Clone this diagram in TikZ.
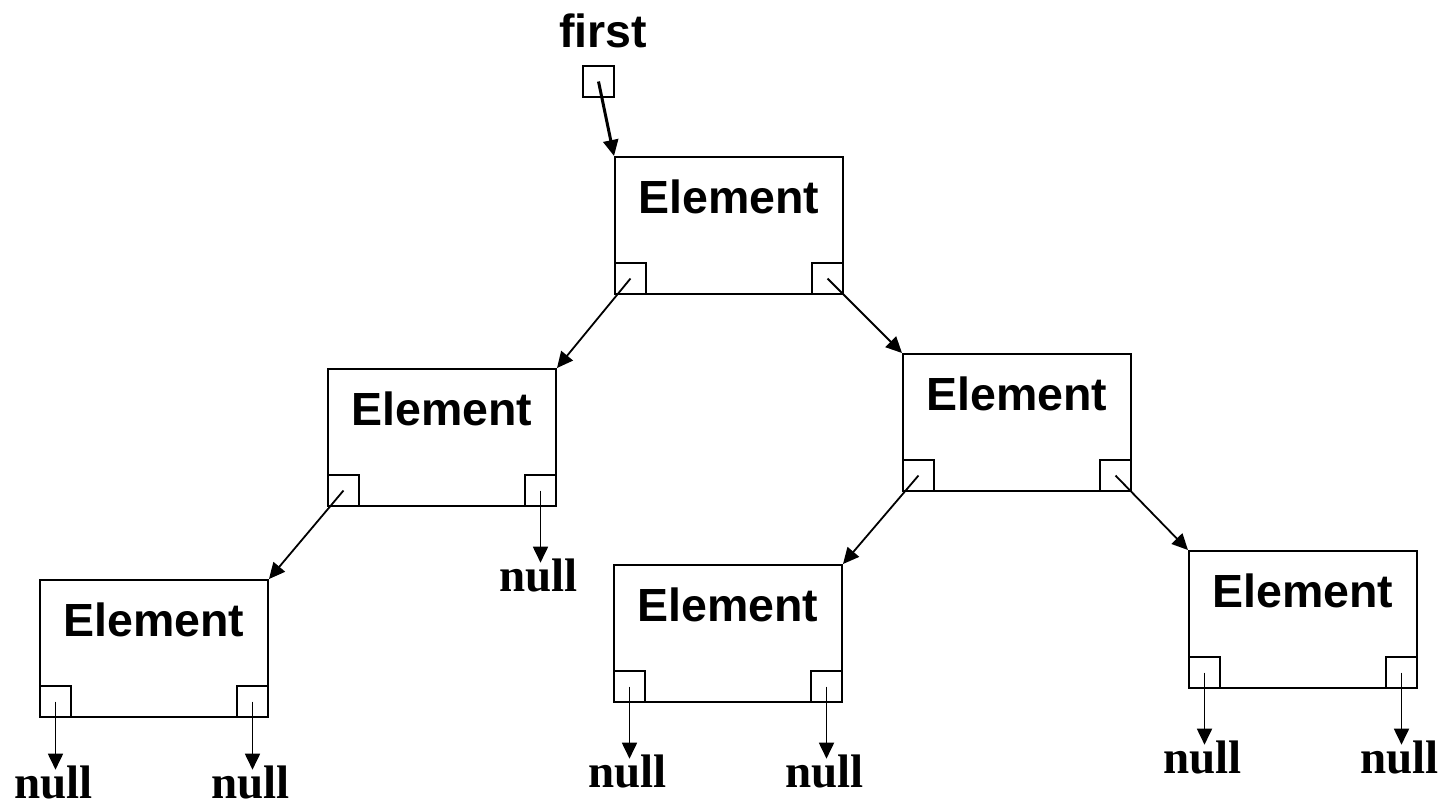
\documentclass[tikz,border=0pt]{standalone}
\usepackage{fontspec}
\setmainfont{Liberation Serif}
\setsansfont{Liberation Sans}
\usetikzlibrary{arrows.meta,calc}
\begin{document}
\begin{tikzpicture}[x=1pt,y=-1pt,
  elem/.style={draw, line width=2pt, minimum width=228pt, minimum height=137pt, inner sep=0pt, anchor=north west},
  sq/.style={draw, line width=2pt, minimum size=31pt, inner sep=0pt},
  lab/.style={font=\fontsize{46.5}{46.5}\selectfont\sffamily\bfseries, anchor=base, inner sep=0pt},
  nul/.style={font=\fontsize{47}{47}\selectfont\rmfamily\bfseries, anchor=base, inner sep=0pt},
  ptr/.style={line width=1.8pt, -{Triangle[length=16pt,width=15pt]}},
]
\useasboundingbox (0,0) rectangle (1441,804);

% first pointer
\node[lab] (ft) at (603,47) {first};
\node[sq] (f) at (598.5,81.5) {};

% element boxes
\node[elem] (b0) at (614,156) {};
\node[elem] (b1) at (327,368) {};
\node[elem] (b2) at (902,353) {};
\node[elem] (b3) at (39,579) {};
\node[elem] (b4) at (613,564) {};
\node[elem] (b5) at (1188,550) {};

\foreach \b in {b0,b1,b2,b3,b4,b5}{
  \path (\b.north) ++(0,57) node[lab] (\b t) {Element};
  \node[sq, anchor=south west] (\b l) at (\b.south west) {};
  \node[sq, anchor=south east] (\b r) at (\b.south east) {};
}

% pointers
\draw[ptr, line width=3pt] (f.center) -- (b0.north west);
\draw[ptr] (b0l.center) -- (b1.north east);
\draw[ptr] (b0r.center) -- (b2.north west);
\draw[ptr] (b1l.center) -- (b3.north east);
\draw[ptr] (b2l.center) -- (b4.north east);
\draw[ptr] (b2r.center) -- (b5.north west);

% null pointers
\foreach \s/\n/\d in {b1r/n1/101, b3l/n2/97, b3r/n3/97, b4l/n4/101, b4r/n5/101, b5l/n6/101, b5r/n7/101}{
  \path (\s.center) ++(-2,\d) node[nul] (\n) {null};
  \draw[ptr, shorten >=-4pt] (\s.center) -- (\s.center |- \n.north);
}
\end{tikzpicture}
\end{document}
